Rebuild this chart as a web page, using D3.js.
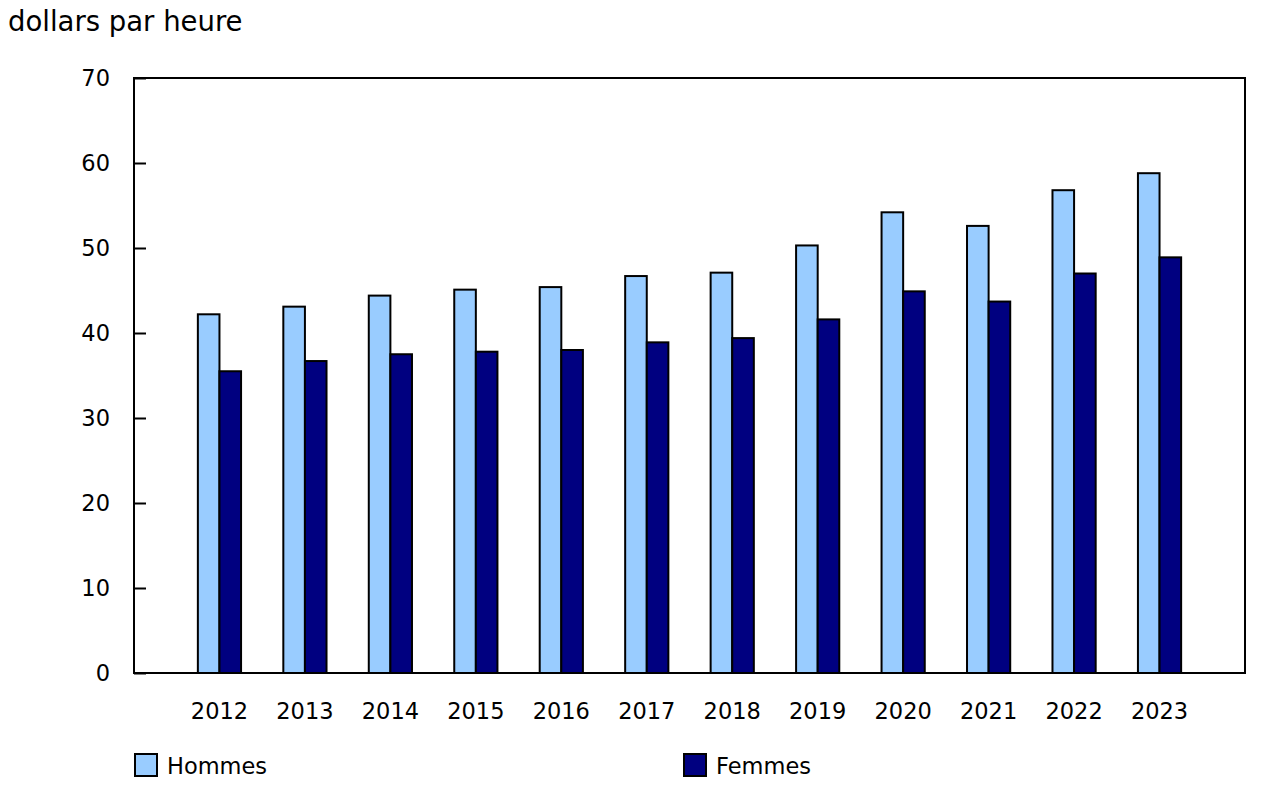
<!DOCTYPE html>
<html><head><meta charset="utf-8">
<script src="https://cdn.jsdelivr.net/npm/d3@7"></script>
<style>body{margin:0;background:#fff;} text{font-family:"DejaVu Sans",Verdana,sans-serif;fill:#000;}</style>
</head><body>
<svg id="c" width="1281" height="800"></svg>
<script>
const years = ["2012","2013","2014","2015","2016","2017","2018","2019","2020","2021","2022","2023"];
const hommes = [42.2,43.1,44.4,45.1,45.4,46.7,47.1,50.3,54.2,52.6,56.8,58.8];
const femmes = [35.5,36.7,37.5,37.8,38.0,38.9,39.4,41.6,44.9,43.7,47.0,48.9];
const yTicks = [0,10,20,30,40,50,60,70];
const seriesNames = ["Hommes","Femmes"];
const colors = ["#99CCFF","#000080"];

const svg = d3.select("#c");
const L=134, R=1245, T=78, B=673;
const x = d3.scalePoint().domain(years).range([L,R]).padding(1);
const y = d3.scaleLinear().domain([0,70]).range([B,T]);
const bw = 21.6;

svg.append("rect").attr("x",L).attr("y",T).attr("width",R-L).attr("height",B-T)
  .attr("fill","none").attr("stroke","#000").attr("stroke-width",2);

const ya = svg.append("g").attr("transform",`translate(${L},0)`)
  .call(d3.axisRight(y).tickValues(yTicks).tickSize(12).tickFormat(""));
ya.select(".domain").remove();
ya.selectAll("line").attr("stroke","#000").attr("stroke-width",2);
svg.selectAll(".ylab").data(yTicks).join("text").attr("class","ylab")
  .attr("x",110).attr("y",d=>y(d)+8).attr("text-anchor","end").attr("font-size",22.5).text(d=>d);

const data = [hommes, femmes];
data.forEach((arr,si)=>{
  svg.append("g").selectAll("rect").data(arr).join("rect")
    .attr("x",(d,i)=>x(years[i]) - bw + si*bw)
    .attr("y",d=>y(d)).attr("width",bw).attr("height",d=>B-y(d))
    .attr("fill",colors[si]).attr("stroke","#000").attr("stroke-width",2);
});

svg.selectAll(".xlab").data(years).join("text").attr("class","xlab")
  .attr("x",d=>x(d)).attr("y",719).attr("text-anchor","middle").attr("font-size",22.5).text(d=>d);

svg.append("text").attr("x",8).attr("y",31).attr("font-size",27.5).text("dollars par heure");

const legX = [135, 684];
seriesNames.forEach((n,i)=>{
  svg.append("rect").attr("x",legX[i]).attr("y",754).attr("width",22).attr("height",22)
    .attr("fill",colors[i]).attr("stroke","#000").attr("stroke-width",2);
  svg.append("text").attr("x",legX[i]+32).attr("y",774).attr("font-size",22.5).text(n);
});
</script>
</body></html>
